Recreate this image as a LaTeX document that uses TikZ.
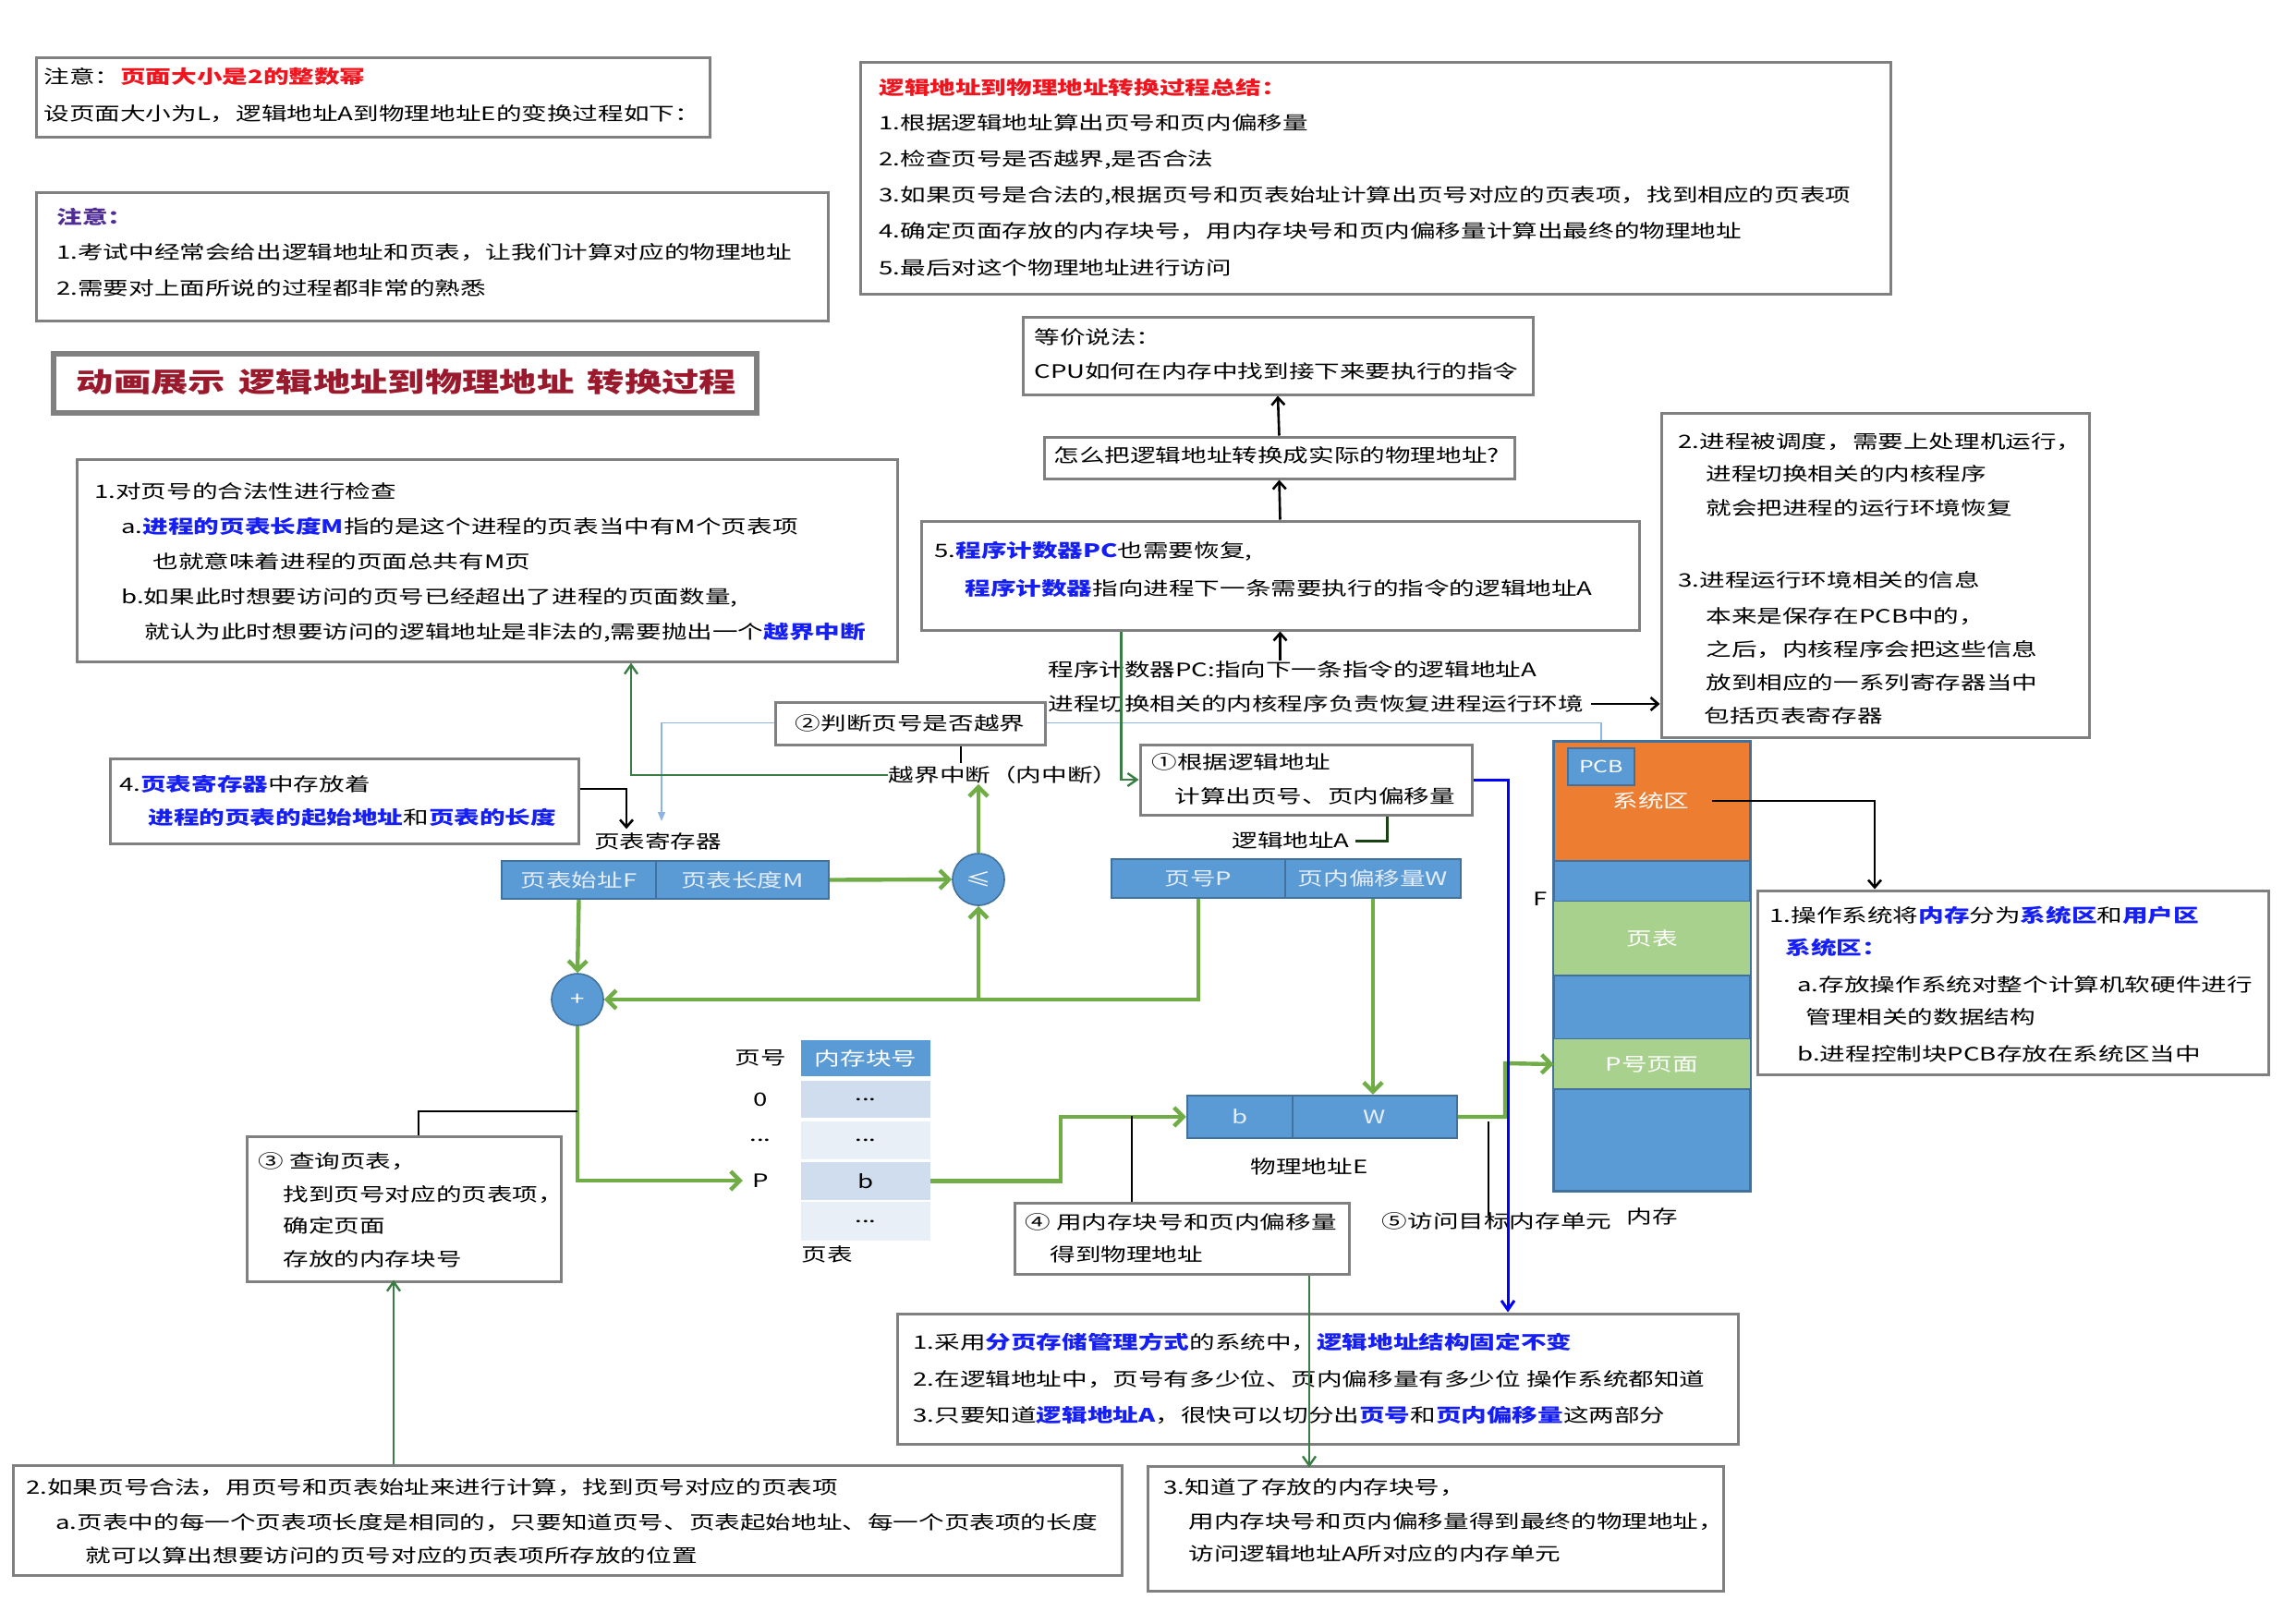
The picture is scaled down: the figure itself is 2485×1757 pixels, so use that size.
\documentclass[tikz,border=0pt]{standalone}
\usepackage{fontspec}
\setmainfont{Noto Sans CJK SC}[FakeStretch=1.38]
\usetikzlibrary{arrows.meta}
\definecolor{boxgray}{RGB}{128,128,128}
\definecolor{bluet}{RGB}{20,30,245}
\definecolor{redt}{RGB}{240,20,30}
\definecolor{titred}{RGB}{155,25,45}
\definecolor{purp}{RGB}{80,45,150}
\definecolor{lgreen}{RGB}{112,173,71}
\definecolor{dgreen}{RGB}{58,125,68}
\definecolor{vdgreen}{RGB}{25,65,20}
\definecolor{barblue}{RGB}{91,155,213}
\definecolor{bardark}{RGB}{65,113,156}
\definecolor{rowa}{RGB}{207,221,238}
\definecolor{rowb}{RGB}{233,239,247}
\definecolor{orng}{RGB}{237,125,49}
\definecolor{mgreen}{RGB}{169,209,142}
\definecolor{lblue}{RGB}{143,180,227}
\definecolor{bartext}{RGB}{228,237,248}
\newcommand\mkbox[7]{\node[#6, minimum width={((#4)-(#2))*0.5pt}, minimum height={((#5)-(#3))*0.5pt}] (#1) at ({((#2)+(#4))/2},{((#3)+(#5))/2}) {#7};}
\newcommand\bluehl[1]{\textcolor{bluet}{\bfseries #1}}
\tikzset{
  box/.style={draw=boxgray, line width=1.5pt, fill=white, inner sep=0pt},
  tbox/.style={draw=boxgray, line width=3pt, fill=white, inner sep=0pt},
  tx/.style={anchor=west, inner sep=0pt, font=\fontsize{10}{12}\selectfont},
  lb/.style={inner sep=0pt, font=\fontsize{10}{12}\selectfont},
  bar/.style={draw=bardark, line width=1.2pt, fill=barblue, inner sep=0pt, text=bartext, font=\fontsize{10}{12}\selectfont},
  thd/.style={fill=barblue, draw=none, inner sep=0pt, text=white, font=\fontsize{10}{12}\selectfont},
  rowA/.style={fill=rowa, draw=none, inner sep=0pt, font=\fontsize{10}{12}\selectfont},
  rowB/.style={fill=rowb, draw=none, inner sep=0pt, font=\fontsize{10}{12}\selectfont},
  memb/.style={fill=barblue, draw=bardark, line width=0.8pt, inner sep=0pt},
  memg/.style={fill=mgreen, draw=none, inner sep=0pt, text=white, font=\fontsize{10}{12}\selectfont},
  memo/.style={fill=orng, draw=bardark, line width=0.8pt, inner sep=0pt},
  pcbst/.style={fill=barblue, draw=bardark, line width=1pt, inner sep=0pt, text=white, font=\fontsize{9}{10}\selectfont},
  circ/.style={circle, fill=barblue, draw=bardark, line width=0.8pt, minimum size=28pt, inner sep=0pt, text=white, font=\fontsize{10}{10}\selectfont},
  garr/.style={draw=lgreen, line width=2.2pt, -{Straight Barb[length=5pt,width=10pt]}},
  dgarr/.style={draw=dgreen, line width=1.2pt, -{Straight Barb[length=5pt,width=7pt]}},
  vdgline/.style={draw=vdgreen, line width=1.5pt},
  karr/.style={draw=black, line width=1.3pt, -{Straight Barb[length=4pt,width=7pt]}},
  kline/.style={draw=black, line width=1.3pt},
  barr/.style={draw=blue, line width=1.5pt, -{Straight Barb[length=5pt,width=7pt]}},
  lbarr/.style={draw=lblue, line width=0.8pt, -{Triangle[length=5pt,width=4pt]}}
}
\begin{document}
\begin{tikzpicture}[x=0.5pt,y=-0.5pt]
\useasboundingbox (0,0) rectangle (2485,1757);
\fill[white] (0,0) rectangle (2485,1757);

% PCB -> page table register (behind boxes)
\mkbox{pcb0}{1697}{810}{1769}{850}{inner sep=0pt}{}
\draw[lbarr] (pcb0.north) -- ++(0,-27) -| (716,889);

% ---------- boxes ----------
\mkbox{nA}{39}{62}{768}{148}{box}{}
\mkbox{nB}{39}{208}{896}{347}{box}{}
\mkbox{title}{58}{383}{819}{447}{tbox}{}
\mkbox{sum}{931}{67}{2046}{318}{box}{}
\mkbox{equiv}{1107}{343}{1659}{427}{box}{}
\mkbox{how}{1130}{473}{1639}{518}{box}{}
\mkbox{five}{997}{564}{1774}{682}{box}{}
\mkbox{env}{1798}{447}{2261}{798}{box}{}
\mkbox{chk}{83}{497}{971}{716}{box}{}
\mkbox{judge}{839}{760}{1131}{806}{box}{}
\mkbox{reg}{119}{821}{626}{913}{box}{}
\mkbox{calc}{1234}{806}{1593}{882}{box}{}
\mkbox{query}{267}{1230}{607}{1387}{box}{}
\mkbox{phys}{1098}{1302}{1460}{1379}{box}{}
\mkbox{os}{1902}{964}{2455}{1163}{box}{}
\mkbox{bot1}{971}{1422}{1881}{1563}{box}{}
\mkbox{bot2}{14}{1586}{1214}{1705}{box}{}
\mkbox{bot3}{1242}{1587}{1865}{1722}{box}{}

% ---------- texts ----------
\node[tx] (a1) at (47,83) {注意：\textcolor{redt}{\bfseries 页面大小是2的整数幂}};
\node[tx] (a2) at (47,123) {设页面大小为L，逻辑地址A到物理地址E的变换过程如下：};

\node[tx] (b0) at (61,235) {\textcolor{purp}{\bfseries 注意：}};
\node[tx] (b1) at (61,273) {1.考试中经常会给出逻辑地址和页表，让我们计算对应的物理地址};
\node[tx] (b2) at (61,312) {2.需要对上面所说的过程都非常的熟悉};

\node[inner sep=0pt, font=\fontsize{14.6}{18}\selectfont\bfseries, text=titred] (ttl) at (440,414) {动画展示\hspace{0.5em}逻辑地址到物理地址\hspace{0.5em}转换过程};

\node[tx] (s0) at (951,95) {\textcolor{redt}{\bfseries 逻辑地址到物理地址转换过程总结：}};
\node[tx] (s1) at (951,133) {1.根据逻辑地址算出页号和页内偏移量};
\node[tx] (s2) at (951,173) {2.检查页号是否越界,是否合法};
\node[tx] (s3) at (951,212) {3.如果页号是合法的,根据页号和页表始址计算出页号对应的页表项，找到相应的页表项};
\node[tx] (s4) at (951,250) {4.确定页面存放的内存块号，用内存块号和页内偏移量计算出最终的物理地址};
\node[tx] (s5) at (951,290) {5.最后对这个物理地址进行访问};

\node[tx] (e0) at (1119,365) {等价说法：};
\node[tx] (e1) at (1119,402) {CPU如何在内存中找到接下来要执行的指令};

\node[tx] (h0) at (1140,493) {怎么把逻辑地址转换成实际的物理地址?};

\node[tx] (f1) at (1011,597) {5.\bluehl{程序计数器PC}也需要恢复,};
\node[tx] (f2) at (1044,637) {\bluehl{程序计数器}指向进程下一条需要执行的指令的逻辑地址A};

\node[tx] (pcl) at (1134,725) {程序计数器PC:指向下一条指令的逻辑地址A};
\node[tx] (envl) at (1134,762) {进程切换相关的内核程序负责恢复进程运行环境};

\node[tx] (v1) at (1816,478) {2.进程被调度，需要上处理机运行，};
\node[tx] (v2) at (1846,513) {进程切换相关的内核程序};
\node[tx] (v3) at (1846,550) {就会把进程的运行环境恢复};
\node[tx] (v4) at (1816,628) {3.进程运行环境相关的信息};
\node[tx] (v5) at (1846,667) {本来是保存在PCB中的，};
\node[tx] (v6) at (1846,703) {之后，内核程序会把这些信息};
\node[tx] (v7) at (1846,739) {放到相应的一系列寄存器当中};
\node[tx] (v8) at (1844,775) {包括页表寄存器};

\node[tx] (c1) at (102,532) {1.对页号的合法性进行检查};
\node[tx] (c2) at (131,570) {a.\bluehl{进程的页表长度M}指的是这个进程的页表当中有M个页表项};
\node[tx] (c3) at (165,608) {也就意味着进程的页面总共有M页};
\node[tx] (c4) at (131,647) {b.如果此时想要访问的页号已经超出了进程的页面数量,};
\node[tx] (c5) at (156,685) {就认为此时想要访问的逻辑地址是非法的,需要抛出一个\bluehl{越界中断}};

\node[lb] (j1) at (985,783) {②判断页号是否越界};

\node[tx] (g1) at (129,849) {4.\bluehl{页表寄存器}中存放着};
\node[tx] (g2) at (160,885) {\bluehl{进程的页表的起始地址}和\bluehl{页表的长度}};

\node[tx] (k1) at (1246,825) {①根据逻辑地址};
\node[tx] (k2) at (1271,862) {计算出页号、页内偏移量};

\node[tx] (q1) at (279,1257) {③ 查询页表，};
\node[tx] (q2) at (306,1293) {找到页号对应的页表项，};
\node[tx] (q3) at (306,1327) {确定页面};
\node[tx] (q4) at (306,1363) {存放的内存块号};

\node[tx] (p1) at (1109,1323) {④ 用内存块号和页内偏移量};
\node[tx] (p2) at (1136,1358) {得到物理地址};

\node[tx] (o1) at (1915,991) {1.操作系统将\bluehl{内存}分为\bluehl{系统区}和\bluehl{用户区}};
\node[tx] (o2) at (1932,1026) {\bluehl{系统区：}};
\node[tx] (o3) at (1945,1066) {a.存放操作系统对整个计算机软硬件进行};
\node[tx] (o4) at (1954,1101) {管理相关的数据结构};
\node[tx] (o5) at (1945,1141) {b.进程控制块PCB存放在系统区当中};

\node[tx] (u1) at (988,1453) {1.采用\bluehl{分页存储管理方式}的系统中，\bluehl{逻辑地址结构固定不变}};
\node[tx] (u2) at (988,1493) {2.在逻辑地址中，页号有多少位、页内偏移量有多少位 操作系统都知道};
\node[tx] (u3) at (988,1532) {3.只要知道\bluehl{逻辑地址A}，很快可以切分出\bluehl{页号}和\bluehl{页内偏移量}这两部分};

\node[tx] (w1) at (28,1610) {2.如果页号合法，用页号和页表始址来进行计算，找到页号对应的页表项};
\node[tx] (w2) at (60,1648) {a.页表中的每一个页表项长度是相同的，只要知道页号、页表起始地址、每一个页表项的长度};
\node[tx] (w3) at (92,1684) {就可以算出想要访问的页号对应的页表项所存放的位置};

\node[tx] (x1) at (1259,1610) {3.知道了存放的内存块号，};
\node[tx] (x2) at (1286,1647) {用内存块号和页内偏移量得到最终的物理地址，};
\node[tx] (x3) at (1286,1682) {访问逻辑地址A所对应的内存单元};

% ---------- diagram ----------
\node[lb] (lptr) at (712,911) {页表寄存器};
\node[lb] (ovl) at (1086,839) {越界中断（内中断）};
\node[lb] (lA) at (1397,910) {逻辑地址A};
\node[lb] (lE) at (1417,1263) {物理地址E};
\node[lb] (lpn) at (823,1145) {页号};
\node[lb] (l0) at (823,1190) {0};
\node[lb] (ldots) at (823,1234) {...};
\node[lb] (lP) at (823,1278) {P};
\node[lb] (lpt) at (895,1358) {页表};
\node[lb] (l5) at (1620,1322) {⑤访问目标内存单元};
\node[lb] (lF) at (1667,973) {F};
\node[lb] (lmem) at (1788,1317) {内存};

\mkbox{ptF}{543}{932}{710}{973}{bar}{页表始址F}
\mkbox{ptM}{710}{932}{897}{973}{bar}{页表长度M}
\mkbox{pP}{1203}{930}{1391}{972}{bar}{页号P}
\mkbox{pW}{1391}{930}{1581}{972}{bar}{页内偏移量W}
\mkbox{eb}{1285}{1186}{1399}{1232}{bar}{b}
\mkbox{ew}{1399}{1186}{1577}{1232}{bar}{W}

\node[circ] (le) at (1059,952) {≤};
\node[circ] (plus) at (625,1082) {+};

\mkbox{th}{867}{1126}{1007}{1165}{thd}{内存块号}
\mkbox{r0}{867}{1170}{1007}{1210}{rowA}{...}
\mkbox{r1}{867}{1214}{1007}{1255}{rowB}{...}
\mkbox{r2}{867}{1258}{1007}{1299}{rowA}{b}
\mkbox{r3}{867}{1301}{1007}{1343}{rowB}{...}

\mkbox{sys}{1682}{803}{1894}{932}{memo}{}
\mkbox{m1}{1682}{932}{1894}{976}{memb}{}
\mkbox{mpt}{1682}{976}{1894}{1056}{memg}{页表}
\mkbox{m2}{1682}{1056}{1894}{1125}{memb}{}
\mkbox{mpp}{1682}{1125}{1894}{1179}{memg}{P号页面}
\mkbox{m3}{1682}{1179}{1894}{1289}{memb}{}
\draw[draw=bardark, line width=1pt] (sys.north west) rectangle (m3.south east);
\mkbox{pcb}{1697}{810}{1769}{850}{pcbst}{PCB}
\node[lb, text=white] (sysl) at (1787,867) {系统区};
\coordinate (bend1) at (1148,1209);
\coordinate (bend2) at (1629,1151);

% ---------- connectors ----------
\draw[karr] (how.north) -- (equiv.south);
\draw[karr] (five.north) -- (how.south);
\draw[karr] (pcl.north -| five.south) -- (five.south);
\draw[karr] ([xshift=4pt]envl.east) -- (envl.east -| env.west);
\draw[kline] ([xshift=27.5pt]judge.south) -- ++(0,18);
\draw[dgarr] (ovl.west) -| ([xshift=78pt]chk.south);
\draw[garr] (le.north) -- (le.north |- ovl.south);
\draw[garr] (ptM.east) -- (le.west);
\draw[garr] (ptF.south) -- (plus.north);
\draw[garr] (pP.south) |- (plus.east);
\draw[garr] (le.south |- plus.east) -- (le.south);
\draw[garr] (plus.south) |- ([xshift=-5pt]lP.west);
\draw[garr] (r2.east) -| (bend1) -- (eb.west);
\draw[garr] (pW.south) -- (pW.south |- ew.north);
\draw[garr] (ew.east) -| (bend2) -- (mpp.west);
\draw[kline] ([xshift=-27pt]phys.north) -- ++(0,-93);
\draw[dgarr] ([xshift=69pt]phys.south) -- ++(0,208);
\draw[kline] ([xshift=-4.5pt,yshift=3pt]l5.center) -- ++(0,-102);
\draw[barr] (calc.east) -| ([xshift=103pt]bot1.north);
\draw[dgarr] ([xshift=-86pt]five.south) |- (calc.west);
\draw[vdgline] ([xshift=44pt]calc.south) |- ([xshift=3pt]lA.east);
\draw[karr] ([yshift=6.5pt]reg.east) -| ([xshift=-17pt,yshift=2pt]lptr.north);
\draw[kline] ([xshift=8pt]query.north) |- ([yshift=-46pt]plus.south);
\draw[dgarr] ([xshift=-94pt]bot2.north) -- ++(0,-199);
\draw[karr] ([xshift=12pt]sysl.east) -| ([xshift=-74.75pt]os.north);
\end{tikzpicture}
\end{document}
